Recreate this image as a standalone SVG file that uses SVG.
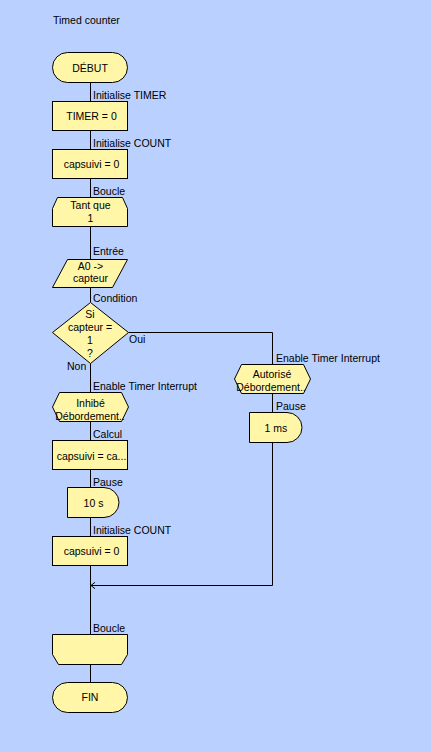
<svg xmlns="http://www.w3.org/2000/svg" width="431" height="752" viewBox="0 0 431 752">
<style>
text{font-family:"Liberation Sans",Arial,sans-serif;font-size:10.5px;fill:#000}
.s{fill:#FFF6A8;stroke:#000;stroke-width:1}
.c{fill:none;stroke:#000;stroke-width:1}
.m{text-anchor:middle}
</style>
<defs>
<marker id="arr" markerUnits="userSpaceOnUse" markerWidth="6" markerHeight="8" viewBox="0 0 6 8" refX="5" refY="4" orient="auto">
<path d="M1,0.8 L5,4 L1,7.2" fill="none" stroke="#000" stroke-width="1"/>
</marker>
</defs>
<rect x="0" y="0" width="431" height="752" fill="#BAD1FF"/>
<text x="53" y="24">Timed counter</text>

<g id="connectors">
<path class="c" d="M90.5,82.5V101.5M90.5,130.5V149.5M90.5,178.5V197.5M90.5,226.5V259.5M90.5,287.5V302.5M90.5,363.5V392.5M90.5,421.5V440.5M90.5,469.5V487.5M90.5,517.5V536.5M90.5,565.5V634.5M90.5,664.5V682.5"/>
<path class="c" d="M128.5,332.5H272.5V364.5M272.5,393.5V412.5"/>
<path class="c" d="M272.5,442.5V585.5H91" marker-end="url(#arr)"/>
<text x="93" y="99">Initialise TIMER</text>
<text x="93" y="147">Initialise COUNT</text>
<text x="93" y="194.5">Boucle</text>
<text x="93" y="254.5">Entrée</text>
<text x="93" y="302">Condition</text>
<text x="129" y="343">Oui</text>
<text x="67" y="370">Non</text>
<text x="93" y="390">Enable Timer Interrupt</text>
<text x="93" y="437.5">Calcul</text>
<text x="93" y="485.5">Pause</text>
<text x="93" y="533.5">Initialise COUNT</text>
<text x="93" y="632">Boucle</text>
<text x="276" y="361.5">Enable Timer Interrupt</text>
<text x="276" y="410">Pause</text>
</g>

<g id="debut">
<rect class="s" x="52.5" y="52.5" width="75" height="30" rx="15" ry="15"/>
<text class="m" x="90" y="71.5">DÉBUT</text>
</g>
<g id="timer0">
<rect class="s" x="52.5" y="101.5" width="75" height="29"/>
<text class="m" x="91.5" y="120">TIMER = 0</text>
</g>
<g id="capsuivi0a">
<rect class="s" x="52.5" y="149.5" width="75" height="29"/>
<text class="m" x="91.5" y="168">capsuivi = 0</text>
</g>
<g id="tantque">
<polygon class="s" points="57.5,197.5 122.5,197.5 127.5,208.5 127.5,226.5 52.5,226.5 52.5,208.5"/>
<text class="m" x="90.5" y="208.5">Tant que</text>
<text class="m" x="90.5" y="222">1</text>
</g>
<g id="entree">
<polygon class="s" points="67.5,259.5 127.5,259.5 112.5,287.5 52.5,287.5"/>
<text class="m" x="90.5" y="270">A0 -&gt;</text>
<text class="m" x="90.5" y="282">capteur</text>
</g>
<g id="condition">
<polygon class="s" points="90.5,302.5 128.5,332.5 90.5,363.5 52.5,332.5"/>
<text class="m" x="90" y="318">Si</text>
<text class="m" x="90" y="331">capteur =</text>
<text class="m" x="90" y="343.5">1</text>
<text class="m" x="90" y="356.5">?</text>
</g>
<g id="inhibe">
<polygon class="s" points="52.5,407 59.5,392.5 121.5,392.5 128.5,407 121.5,421.5 59.5,421.5"/>
<text class="m" x="90.5" y="406.5">Inhibé</text>
<text class="m" x="90" y="419.5">Débordement..</text>
</g>
<g id="calcul">
<rect class="s" x="52.5" y="440.5" width="75" height="29"/>
<text class="m" x="91.5" y="459.5">capsuivi = ca...</text>
</g>
<g id="pause10">
<path class="s" d="M67.5,487.5H104A15,15 0 0 1 104,517.5H67.5Z"/>
<text class="m" x="93.5" y="506.5">10 s</text>
</g>
<g id="capsuivi0b">
<rect class="s" x="52.5" y="536.5" width="75" height="29"/>
<text class="m" x="91.5" y="555">capsuivi = 0</text>
</g>
<g id="finboucle">
<polygon class="s" points="52.5,634.5 127.5,634.5 127.5,654.5 121.5,664.5 58.5,664.5 52.5,654.5"/>
</g>
<g id="fin">
<rect class="s" x="52.5" y="682.5" width="75" height="30" rx="15" ry="15"/>
<text class="m" x="90" y="701">FIN</text>
</g>
<g id="autorise">
<polygon class="s" points="234.5,379 241.5,364.5 303.5,364.5 310.5,379 303.5,393.5 241.5,393.5"/>
<text class="m" x="272" y="378">Autorisé</text>
<text class="m" x="271" y="390.5">Débordement..</text>
</g>
<g id="pause1">
<path class="s" d="M249.5,412.5H287A15,15 0 0 1 287,442.5H249.5Z"/>
<text class="m" x="276" y="432">1 ms</text>
</g>
</svg>
